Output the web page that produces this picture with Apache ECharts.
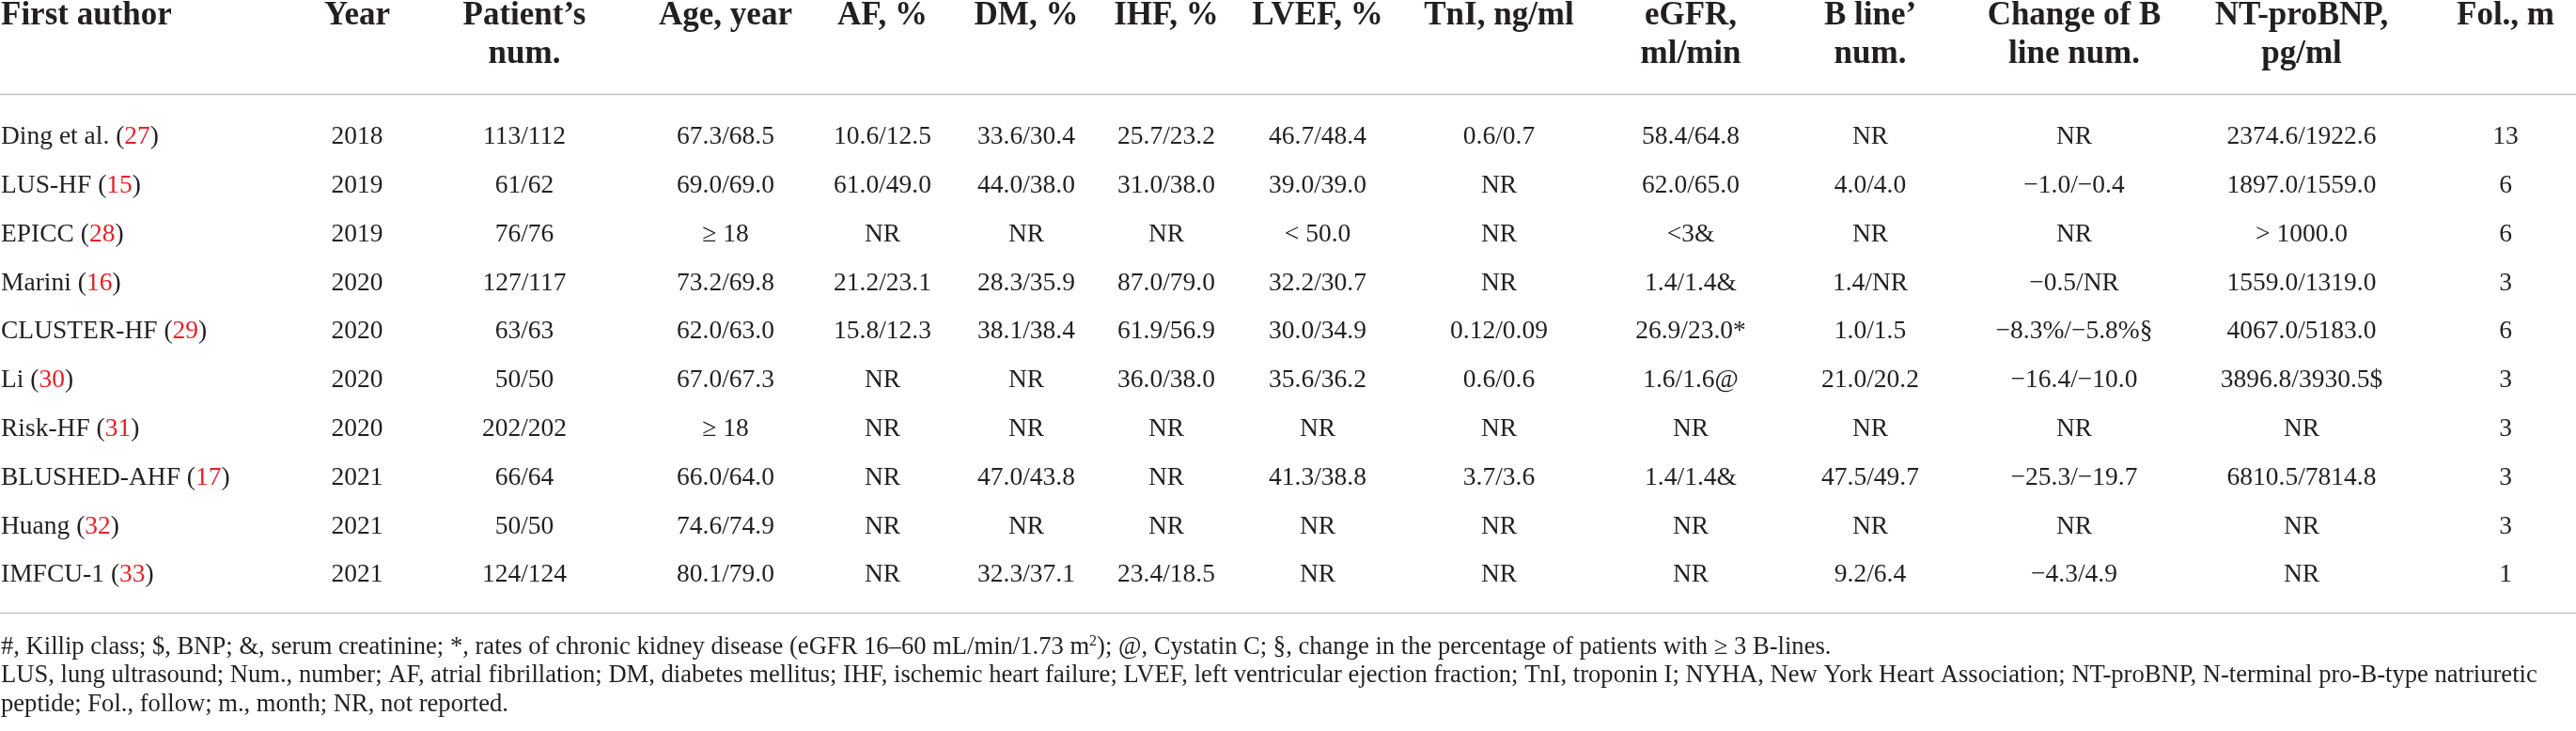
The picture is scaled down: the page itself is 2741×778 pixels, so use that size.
<!DOCTYPE html>
<html>
<head>
<meta charset="utf-8">
<title>Lung ultrasound studies</title>
<script src="https://cdn.jsdelivr.net/npm/echarts@6/dist/echarts.min.js"></script>
<style>
  html, body { margin: 0; padding: 0; background: #fff; }
  #main { width: 2741px; height: 778px; }
</style>
</head>
<body>
<div id="main"></div>
<script>
    // ===== table data =====
    var authors  = ['Ding et al.', 'LUS-HF', 'EPICC', 'Marini', 'CLUSTER-HF', 'Li', 'Risk-HF', 'BLUSHED-AHF', 'Huang', 'IMFCU-1'];
    var refs     = ['27', '15', '28', '16', '29', '30', '31', '17', '32', '33'];
    var years    = ['2018', '2019', '2019', '2020', '2020', '2020', '2020', '2021', '2021', '2021'];
    var patients = ['113/112', '61/62', '76/76', '127/117', '63/63', '50/50', '202/202', '66/64', '50/50', '124/124'];
    var ages     = ['67.3/68.5', '69.0/69.0', '≥ 18', '73.2/69.8', '62.0/63.0', '67.0/67.3', '≥ 18', '66.0/64.0', '74.6/74.9', '80.1/79.0'];
    var af       = ['10.6/12.5', '61.0/49.0', 'NR', '21.2/23.1', '15.8/12.3', 'NR', 'NR', 'NR', 'NR', 'NR'];
    var dm       = ['33.6/30.4', '44.0/38.0', 'NR', '28.3/35.9', '38.1/38.4', 'NR', 'NR', '47.0/43.8', 'NR', '32.3/37.1'];
    var ihf      = ['25.7/23.2', '31.0/38.0', 'NR', '87.0/79.0', '61.9/56.9', '36.0/38.0', 'NR', 'NR', 'NR', '23.4/18.5'];
    var lvef     = ['46.7/48.4', '39.0/39.0', '< 50.0', '32.2/30.7', '30.0/34.9', '35.6/36.2', 'NR', '41.3/38.8', 'NR', 'NR'];
    var tni      = ['0.6/0.7', 'NR', 'NR', 'NR', '0.12/0.09', '0.6/0.6', 'NR', '3.7/3.6', 'NR', 'NR'];
    var egfr     = ['58.4/64.8', '62.0/65.0', '<3&', '1.4/1.4&', '26.9/23.0*', '1.6/1.6@', 'NR', '1.4/1.4&', 'NR', 'NR'];
    var bLines   = ['NR', '4.0/4.0', 'NR', '1.4/NR', '1.0/1.5', '21.0/20.2', 'NR', '47.5/49.7', 'NR', '9.2/6.4'];
    var bChange  = ['NR', '−1.0/−0.4', 'NR', '−0.5/NR', '−8.3%/−5.8%§', '−16.4/−10.0', 'NR', '−25.3/−19.7', 'NR', '−4.3/4.9'];
    var ntProBnp = ['2374.6/1922.6', '1897.0/1559.0', '> 1000.0', '1559.0/1319.0', '4067.0/5183.0', '3896.8/3930.5$', 'NR', '6810.5/7814.8', 'NR', 'NR'];
    var followUp = ['13', '6', '6', '3', '6', '3', '3', '3', '3', '1'];

    var headLine1 = ['First author', 'Year', 'Patient’s', 'Age, year', 'AF, %', 'DM, %', 'IHF, %', 'LVEF, %', 'TnI, ng/ml', 'eGFR,', 'B line’', 'Change of B', 'NT-proBNP,', 'Fol., m'];
    var headLine2 = ['', '', 'num.', '', '', '', '', '', '', 'ml/min', 'num.', 'line num.', 'pg/ml', ''];

    var footnotes = [
        '#, Killip class; $, BNP; &, serum creatinine; *, rates of chronic kidney disease (eGFR 16–60 mL/min/1.73 m{sup|2}); @, Cystatin C; §, change in the percentage of patients with ≥ 3 B-lines.',
        'LUS, lung ultrasound; Num., number; AF, atrial fibrillation; DM, diabetes mellitus; IHF, ischemic heart failure; LVEF, left ventricular ejection fraction; TnI, troponin I; NYHA, New York Heart Association; NT-proBNP, N-terminal pro-B-type natriuretic',
        'peptide; Fol., follow; m., month; NR, not reported.'
    ];

    // ===== layout =====
    var W = 2741, H = 778;
    var colX = [1, 380, 558, 772, 939, 1092, 1241, 1402, 1595, 1799, 1990, 2207, 2449, 2666];
    var ROW_PITCH = 51.8, FIRST_ROW_Y = 146;
    var HEAD_Y = [17, 58], RULE_Y = [100.5, 652.5], FOOT_Y = [689, 719.5, 750];
    var INK = '#231f20', RED = '#e3222a', RULE = '#c3c3c3';
    var FONT = '"Liberation Serif", "DejaVu Serif", serif';
    var CELL_SIZE = 27.5, HEAD_SIZE = 35, FOOT_SIZE = 26.6;

    function pxToRow(py) { return (py - FIRST_ROW_Y) / ROW_PITCH; }

    var columns = [authors, years, patients, ages, af, dm, ihf, lvef, tni, egfr, bLines, bChange, ntProBnp, followUp];

    var cellData = [];
    authors.forEach(function (a, r) {
        columns.forEach(function (c, k) { cellData.push([colX[k], r, k]); });
    });
    var headData = [];
    headLine1.forEach(function (t, k) { headData.push([colX[k], pxToRow(HEAD_Y[0]), k, 0]); });
    headLine2.forEach(function (t, k) { if (t) headData.push([colX[k], pxToRow(HEAD_Y[1]), k, 1]); });

    var table = echarts.init(document.getElementById('main'));
    table.setOption({
        animation: false,
        backgroundColor: '#fff',
        grid: { left: 0, right: 0, top: 0, bottom: 0 },
        xAxis: { type: 'value', min: 0, max: W, show: false },
        yAxis: { type: 'value', inverse: true, min: -FIRST_ROW_Y / ROW_PITCH, max: (H - FIRST_ROW_Y) / ROW_PITCH, show: false },
        series: [{
            // body cells
            type: 'custom',
            data: cellData,
            renderItem: function (params, api) {
                var k = api.value(2), r = api.value(1);
                var pt = api.coord([api.value(0), r]);
                var style = { fill: INK, fontSize: CELL_SIZE, fontFamily: FONT, align: k === 0 ? 'left' : 'center', verticalAlign: 'middle' };
                if (k === 0) {
                    style.text = '{a|' + authors[r] + ' (}{r|' + refs[r] + '}{a|)}';
                    style.rich = {
                        a: { fill: INK, fontSize: CELL_SIZE, fontFamily: FONT },
                        r: { fill: RED, fontSize: CELL_SIZE, fontFamily: FONT }
                    };
                } else {
                    style.text = columns[k][r];
                }
                return { type: 'text', x: pt[0], y: pt[1], style: style };
            }
        }, {
            // column headers
            type: 'custom',
            data: headData,
            renderItem: function (params, api) {
                var k = api.value(2), line = api.value(3);
                var pt = api.coord([api.value(0), api.value(1)]);
                return {
                    type: 'text', x: pt[0], y: pt[1],
                    style: {
                        text: line === 0 ? headLine1[k] : headLine2[k],
                        fill: INK, fontSize: HEAD_SIZE, fontWeight: 'bold', fontFamily: FONT,
                        align: k === 0 ? 'left' : 'center', verticalAlign: 'middle'
                    }
                };
            }
        }],
        graphic: [
            { type: 'line', shape: { x1: 0, y1: RULE_Y[0], x2: W, y2: RULE_Y[0] }, style: { stroke: RULE, lineWidth: 1.6 } },
            { type: 'line', shape: { x1: 0, y1: RULE_Y[1], x2: W, y2: RULE_Y[1] }, style: { stroke: RULE, lineWidth: 1.6 } }
        ].concat(footnotes.map(function (t, i) {
            return {
                type: 'text', x: 1, y: FOOT_Y[i],
                style: {
                    text: t, fill: INK, fontSize: FOOT_SIZE, fontFamily: FONT, verticalAlign: 'middle', lineHeight: 28,
                    rich: { sup: { fontSize: 16, fontFamily: FONT, fill: INK, verticalAlign: 'top', lineHeight: 16 } }
                }
            };
        }))
    });
</script>
</body>
</html>
